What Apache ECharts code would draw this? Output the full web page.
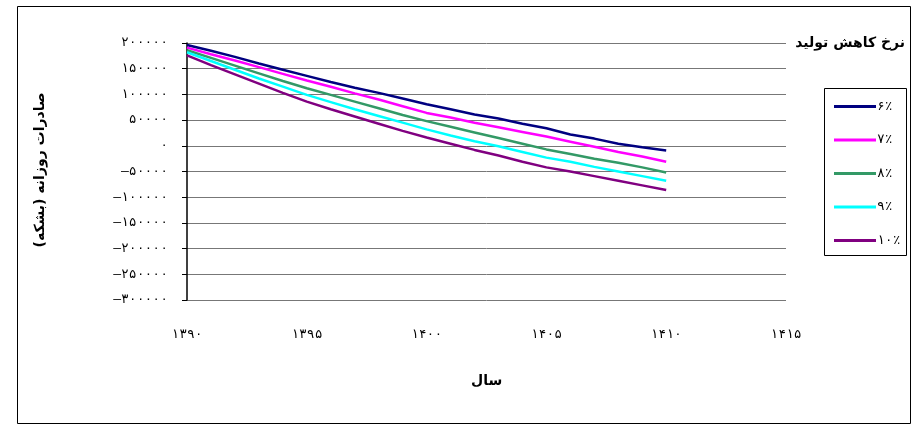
<!DOCTYPE html>
<html>
<head>
<meta charset="utf-8">
<script src="https://cdn.jsdelivr.net/npm/echarts@6/dist/echarts.min.js"></script>
<style>
html,body{margin:0;padding:0;background:#fff;}
#c{width:919px;height:427px;}
</style>
</head>
<body>
<div id="c"></div>
<script>
// Data
var years = [1390,1391,1392,1393,1394,1395,1396,1397,1398,1399,1400,1401,1402,1403,1404,1405,1406,1407,1408,1409,1410];
var seriesNames = ['۶٪','۷٪','۸٪','۹٪','۱۰٪'];
var rate6  = [196000,185000,173000,160000,148000,136000,124000,113000,103000,92000,81000,71000,61000,53000,43000,34000,22000,14000,4000,-3000,-9000];
var rate7  = [191000,178000,166000,153000,140000,127000,115000,102000,90000,77000,64000,55000,45000,36000,27000,18000,8000,-2000,-12000,-21000,-31000];
var rate8  = [186000,171000,156000,141000,126000,112000,99000,86000,73000,60000,48000,37000,26000,15000,4000,-7000,-16000,-25000,-33000,-42000,-52000];
var rate9  = [182000,165000,148000,131000,115000,99000,85000,71000,58000,45000,32000,20000,9000,-1000,-12000,-23000,-31000,-41000,-50000,-59000,-68000];
var rate10 = [176000,157000,139000,121000,103000,86000,71000,57000,43000,29000,16000,4000,-8000,-19000,-31000,-42000,-50000,-59000,-68000,-77000,-86000];
var colors = ['#000080','#FF00FF','#339966','#00FFFF','#800080'];
var persianDigits = ['۰','۱','۲','۳','۴','۵','۶','۷','۸','۹'];
var yTitle = 'صادرات روزانه (بشکه)';
var xTitle = 'سال';
var legendTitle = 'نرخ کاهش تولید';

function toFa(n){
  var s = String(Math.abs(Math.round(n)));
  var out = '';
  for (var i=0;i<s.length;i++){ out += persianDigits[+s[i]]; }
  return (n<0?'–':'') + out;
}

var allData = [rate6, rate7, rate8, rate9, rate10];
var series = allData.map(function(arr, i){
  return {
    name: seriesNames[i],
    type: 'line',
    data: years.map(function(y, j){ return [y, arr[j]]; }),
    showSymbol: false,
    symbol: 'none',
    smooth: false,
    lineStyle: {color: colors[i], width: 2.5},
    itemStyle: {color: colors[i]}
  };
});

var chart = echarts.init(document.getElementById('c'), null, {renderer:'canvas'});
var FONT = 'DejaVu Sans';
var MONO = 'DejaVu Sans Mono';
chart.setOption({
  animation: false,
  backgroundColor: '#fff',
  textStyle: {fontFamily: FONT},
  grid: {left: 187, top: 43, width: 599, height: 257, containLabel: false},
  xAxis: {
    type: 'value', min: 1390, max: 1415, interval: 5,
    axisLine: {show: false},
    axisTick: {show: false},
    splitLine: {show: false},
    axisLabel: {margin: 28, color: '#000', fontSize: 13, fontFamily: MONO, formatter: function(v){ return toFa(v); }}
  },
  yAxis: {
    type: 'value', min: -300000, max: 200000, interval: 50000,
    axisLine: {show: true, onZero: false, lineStyle: {color: '#000', width: 1.5}},
    axisTick: {show: true, inside: false, length: 5, lineStyle: {color: '#000'}},
    splitLine: {show: true, lineStyle: {color: '#777', width: 1}},
    axisLabel: {margin: 19, color: '#000', fontSize: 13, fontFamily: MONO, formatter: function(v){ return toFa(v); }}
  },
  legend: {
    orient: 'vertical',
    left: 829, top: 95,
    itemWidth: 42, itemHeight: 3,
    itemGap: 20.5,
    icon: 'rect',
    data: seriesNames,
    textStyle: {color: '#000', fontSize: 13, fontFamily: MONO, padding: [0,0,0,-4]}
  },
  graphic: [
    {type: 'rect', shape: {x: 17.5, y: 6.5, width: 893, height: 417}, style: {fill: 'none', stroke: '#000', lineWidth: 1}, silent: true, z: -1},
    {type: 'rect', shape: {x: 824.5, y: 88.5, width: 82, height: 167}, style: {fill: '#fff', stroke: '#000', lineWidth: 1}, silent: true, z: -1},
    {type: 'text', right: 14, top: 36, style: {text: legendTitle, font: 'bold 14px "DejaVu Sans"', fill: '#000', align: 'right'}},
    {type: 'text', left: 471, top: 374, style: {text: xTitle, font: 'bold 14px "DejaVu Sans"', fill: '#000'}},
    {type: 'text', x: 40, y: 170, rotation: Math.PI/2, style: {text: yTitle, font: 'bold 14px "DejaVu Sans"', fill: '#000', align: 'center', verticalAlign: 'middle'}}
  ],
  series: series
});
</script>
</body>
</html>
